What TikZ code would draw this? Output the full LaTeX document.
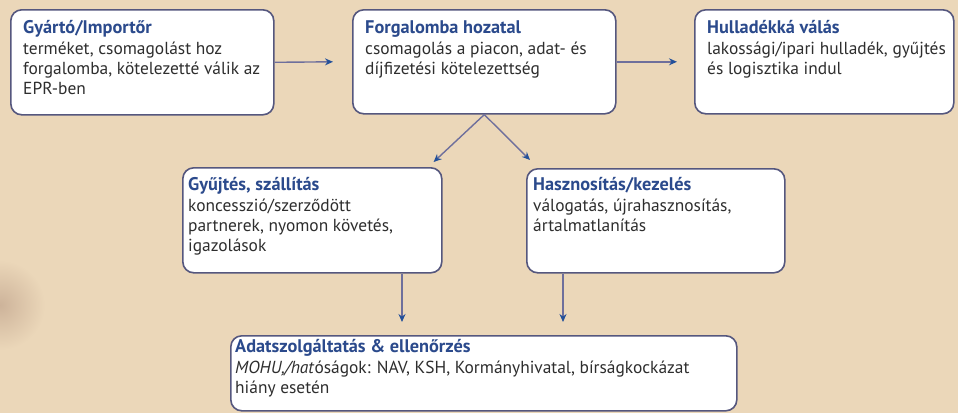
\documentclass[tikz,border=0pt]{standalone}
\usepackage{fontspec}
\setmainfont{PT Sans}
\usetikzlibrary{arrows.meta}
\definecolor{bg}{HTML}{EBD7B9}
\definecolor{bgdark}{HTML}{CDB39A}
\definecolor{boxc}{HTML}{55577E}
\definecolor{titlec}{HTML}{2B4A8C}
\definecolor{textc}{HTML}{2E2E2E}
\definecolor{linec}{HTML}{6E6F9C}
\definecolor{tipc}{HTML}{23509A}
\tikzset{
  box/.style={draw=boxc, line width=1.6pt, rounded corners=11pt, fill=white, anchor=north west, inner sep=0pt},
  txt/.style={anchor=north west, align=left, inner sep=0pt, text=textc, font=\fontsize{17.4}{20}\selectfont},
  arr/.style={draw=linec, line width=1.4pt, -{Stealth[length=8pt,width=7pt,color=tipc]}},
}
\newcommand\ttl[1]{{\color{titlec}\fontsize{18.3}{20}\selectfont\bfseries #1}\\[1.5pt]}
\begin{document}
\begin{tikzpicture}[x=1pt,y=-1pt]
\useasboundingbox (0,0) rectangle (958,413);
\clip (0,0) rectangle (958,413);
\fill[bg] (0,0) rectangle (958,413);
\shade[inner color=bgdark, outer color=bg] (0,305) circle (45);

\node[box, minimum width=263pt, minimum height=105pt] (b1) at (10,9) {};
\node[box, minimum width=263pt, minimum height=104pt] (b2) at (352,9) {};
\node[box, minimum width=259pt, minimum height=104pt] (b3) at (694,9) {};
\node[box, minimum width=259pt, minimum height=105pt] (b4) at (182,167) {};
\node[box, minimum width=258pt, minimum height=104pt] (b5) at (526,168) {};
\node[box, minimum width=506pt, minimum height=75pt] (b6) at (230,335) {};

\node[txt] (t1) at (23,20) {\ttl{Gyártó/Importőr}terméket, csomagolást hoz\\forgalomba, kötelezetté válik az\\EPR-ben};
\node[txt] (t2) at (365,20) {\ttl{Forgalomba hozatal}csomagolás a piacon, adat- és\\díjfizetési kötelezettség};
\node[txt] (t3) at (707,20) {\ttl{Hulladékká válás}lakossági/ipari hulladék, gyűjtés\\és logisztika indul};
\node[txt] (t4) at (188,177) {\ttl{Gyűjtés, szállítás}koncesszió/szerződött\\partnerek, nyomon követés,\\igazolások};
\node[txt] (t5) at (533,177) {\ttl{Hasznosítás/kezelés}válogatás, újrahasznosítás,\\ártalmatlanítás};
\node[txt] (t6) at (235,339) {\ttl{Adatszolgáltatás \& ellenőrzés}\textit{MOHU,/hat}óságok: NAV, KSH, Kormányhivatal, bírságkockázat\\hiány esetén};

\coordinate (v1) at (402,0);
\coordinate (v2) at (563,0);
\draw[arr] (b1.east) -- ([xshift=-19pt]b2.west);
\draw[arr] (b2.east) -- ([xshift=-17pt]b3.west);
\draw[arr] (b2.south) -- ([xshift=-9pt,yshift=5pt]b4.north east);
\draw[arr] (b2.south) -- ([xshift=4pt,yshift=8pt]b5.north west);
\draw[arr] (v1 |- b4.south) -- ([yshift=13pt]v1 |- b6.north);
\draw[arr] (v2 |- b5.south) -- ([yshift=13pt]v2 |- b6.north);
\end{tikzpicture}
\end{document}
